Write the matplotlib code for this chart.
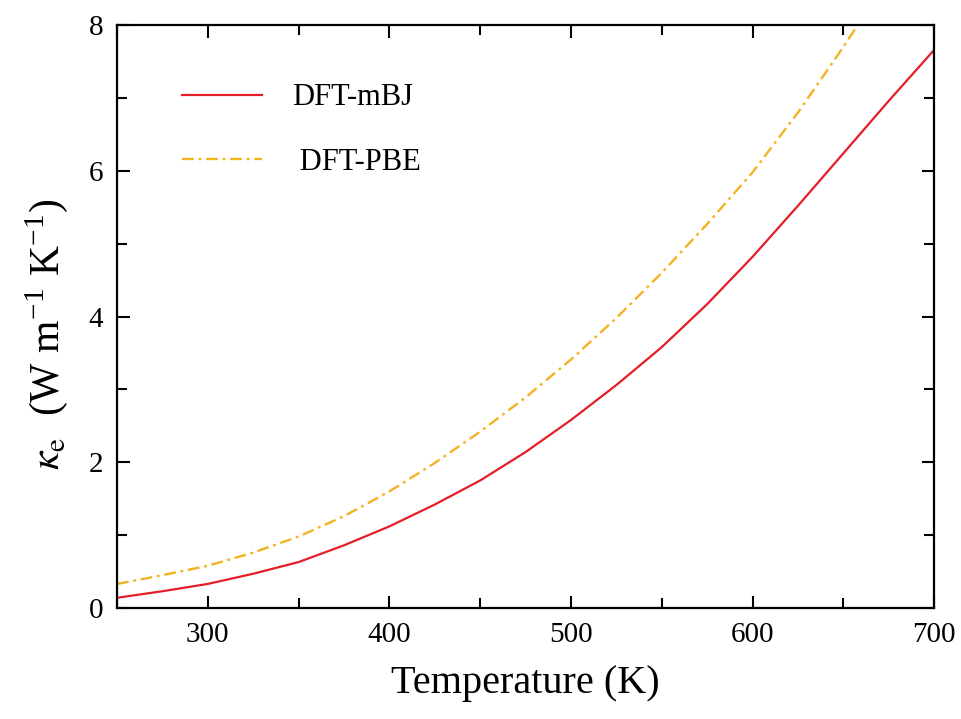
import matplotlib
matplotlib.use("Agg")
import matplotlib.pyplot as plt
from matplotlib.ticker import MultipleLocator

plt.rcParams['font.family'] = ['Liberation Serif', 'DejaVu Serif']
plt.rcParams['mathtext.fontset'] = 'stix'

# temperature grid (K) and electronic thermal conductivity
temp = [250, 275, 300, 325, 350, 375, 400, 425, 450, 475, 500,
        525, 550, 575, 600, 625, 650, 675, 700]
kappa_mbj = [0.14, 0.23, 0.33, 0.47, 0.63, 0.86, 1.12, 1.42, 1.75, 2.14, 2.58,
             3.06, 3.58, 4.17, 4.82, 5.52, 6.24, 6.96, 7.66]
kappa_pbe = [0.33, 0.45, 0.58, 0.76, 0.98, 1.26, 1.60, 1.99, 2.42, 2.89, 3.41,
             3.98, 4.60, 5.27, 5.98, 6.80, 7.70, 8.65, 9.60]

fig = plt.figure(figsize=(9.62, 7.19), dpi=100)
ax = fig.add_axes([0.1216, 0.1544, 0.8494, 0.8106])

ax.plot(temp, kappa_mbj, color='#e41e26', lw=1.6, label='DFT-mBJ')
ax.plot(temp, kappa_pbe, color='#f4b223', lw=1.7, dashes=(5, 2, 1.2, 2),
        label=' DFT-PBE')

ax.set_xlim(250, 700)
ax.set_ylim(0, 8)
ax.xaxis.set_major_locator(MultipleLocator(100))
ax.xaxis.set_minor_locator(MultipleLocator(50))
ax.yaxis.set_major_locator(MultipleLocator(2))
ax.yaxis.set_minor_locator(MultipleLocator(1))
ax.tick_params(which='both', direction='in', top=True, right=True, width=1.5)
ax.tick_params(which='major', length=9, labelsize=21, pad=10)
ax.tick_params(which='minor', length=7)
for s in ax.spines.values():
    s.set_linewidth(1.6)

ax.set_xlabel('Temperature (K)', fontsize=29, labelpad=12)
ax.set_ylabel(r'$\kappa_{\rm e}$  (W m$^{\mathregular{-1}}$ K$^{\mathregular{-1}}$)',
              fontsize=30)
ax.yaxis.set_label_coords(-0.057, 0.47)

ax.legend(loc='upper left', bbox_to_anchor=(0.08, 0.90), frameon=False,
          fontsize=22, handlelength=2.6, handletextpad=1.0,
          labelspacing=1.16, borderpad=0, borderaxespad=0)

plt.savefig('out.png', dpi=100)
